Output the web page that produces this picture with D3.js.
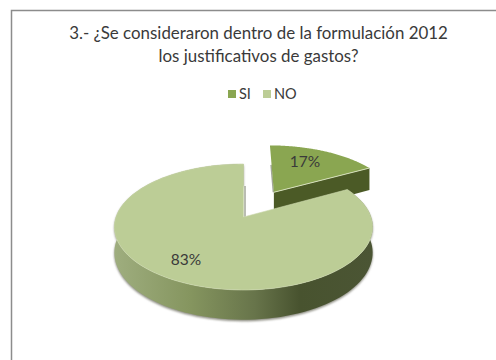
<!DOCTYPE html>
<html>
<head>
<meta charset="utf-8">
<script src="https://cdn.jsdelivr.net/npm/d3@7/dist/d3.min.js"></script>
<style>
html,body{margin:0;padding:0;background:#fff;overflow:hidden}
svg{display:block}
text{font-family:Lato,sans-serif;fill:#3a3a3a}
</style>
</head>
<body>
<svg id="chart" width="496" height="360"></svg>
<script>
const titleLines = ["3.- ¿Se consideraron dentro de la formulación 2012", "los justificativos de gastos?"];
const categories = ["SI", "NO"];
const values = [17, 83];
const colors = ["#8aa651", "#bccd96"];

const svg = d3.select("#chart");
const defs = svg.append("defs");

// Perspective projection of the pie's ground plane onto the page
const view = {cx: 243.5, cy: 217, sx: 127.5, sy: 61.4, k: 0.1587, depth: 25, explode: 0.5};
function project(u, v, z = 0) {
  const w = 1 - view.k * v;
  return [view.cx + view.sx * u / w, view.cy + (view.sy * v + view.depth * z) / w];
}
const toPlane = a => [Math.sin(a), -Math.cos(a)];
const line = d3.line();

const arcs = d3.pie().sort(null).value(d => d)(values);

function rim(arc, offset) {
  const n = 120;
  return d3.range(n + 1).map(i => {
    const a = arc.startAngle + (arc.endAngle - arc.startAngle) * i / n;
    const [u, v] = toPlane(a);
    return [u + offset[0], v + offset[1]];
  });
}
const flat = (pts, z = 0) => pts.map(p => project(p[0], p[1], z));

// Chart frame, open towards the right and bottom edges
svg.append("path").attr("d", "M11.5,360V10.5H496").attr("fill", "none")
  .attr("stroke", "#8c8c8c").attr("stroke-width", 1.5);

// Title
svg.append("g").selectAll("text").data(titleLines).join("text")
  .attr("x", 258.5).attr("y", (d, i) => 39 + i * 23)
  .attr("text-anchor", "middle").attr("font-size", 16.9).text(d => d);

// Legend
const legendX = d3.scaleOrdinal().domain(categories).range([228, 263]);
const legend = svg.append("g").selectAll("g").data(categories).join("g")
  .attr("transform", d => `translate(${legendX(d)},90)`);
legend.append("rect").attr("width", 8).attr("height", 8)
  .attr("fill", (d, i) => colors[i]);
legend.append("text").attr("x", 11).attr("y", 9).attr("font-size", 14.5).text(d => d);

// Gradients for the side walls
const stops = [[0, "#9fae7f"], [0.3, "#85955f"], [0.55, "#67744a"], [0.72, "#48532f"], [1, "#4b5534"]];
const wallGrad = defs.append("linearGradient").attr("id", "wall")
  .attr("gradientUnits", "userSpaceOnUse")
  .attr("x1", 113).attr("x2", 372).attr("y1", 0).attr("y2", 0);
wallGrad.selectAll("stop").data(stops).join("stop")
  .attr("offset", d => d[0]).attr("stop-color", d => d[1]);

const blur = defs.append("filter").attr("id", "soft")
  .attr("x", "-5%").attr("y", "-5%").attr("width", "110%").attr("height", "115%");
blur.append("feGaussianBlur").attr("stdDeviation", 1);

// Exploded SI slice
const siArc = arcs[0], noArc = arcs[1];
const mid = (siArc.startAngle + siArc.endAngle) / 2;
const off = toPlane(mid).map(c => c * view.explode);
const siRim = rim(siArc, off);
const siApex = off;
const siCorner = siRim[siRim.length - 1];

// Inner cut of SI seen along its left edge
svg.append("path")
  .attr("d", line([project(siApex[0], siApex[1]), project(siApex[0], siApex[1] - 0.55)]))
  .attr("transform", "translate(-0.5,0)")
  .attr("stroke", "#a3a79a").attr("stroke-width", 1.5).attr("fill", "none");
// Front cut wall of SI
svg.append("path")
  .attr("d", line([project(...siApex), project(...siCorner), project(...siCorner, 1), project(...siApex, 1)]) + "Z")
  .attr("fill", "#4b5a26");
svg.append("path")
  .attr("d", line([project(...siApex), ...flat(siRim)]) + "Z")
  .attr("fill", colors[0]);
svg.append("path")
  .attr("d", line([project(...siApex), project(...siCorner)]))
  .attr("stroke", "#d5dfba").attr("stroke-width", 1).attr("fill", "none");

// NO slice: shadow, outer wall, thin cut wall, then the top face
const noRim = rim(noArc, [0, 0]);
const noWall = line([...flat(noRim), ...flat(noRim, 1).reverse()]) + "Z";
svg.append("path").attr("d", noWall).attr("fill", "#8b8b80")
  .attr("transform", "translate(0,1.5)").attr("filter", "url(#soft)");
svg.append("path").attr("d", noWall).attr("fill", "url(#wall)");
svg.append("path")
  .attr("d", line([project(0, 0), project(0, -0.55)]))
  .attr("transform", "translate(1.5,0)")
  .attr("stroke", "#a3a79a").attr("stroke-width", 1.5).attr("fill", "none");
svg.append("path")
  .attr("d", line([project(0, 0), ...flat(noRim)]) + "Z")
  .attr("fill", colors[1]).attr("stroke", "#ccd8ae").attr("stroke-width", 0.6);

// Percentage labels
const labelPos = [[305, 167], [186, 265]];
svg.append("g").selectAll("text").data(arcs).join("text")
  .attr("x", (d, i) => labelPos[i][0]).attr("y", (d, i) => labelPos[i][1])
  .attr("text-anchor", "middle").attr("font-size", 15.5).attr("fill", "#2f3a2a")
  .text(d => d.value + "%");
</script>
</body>
</html>
